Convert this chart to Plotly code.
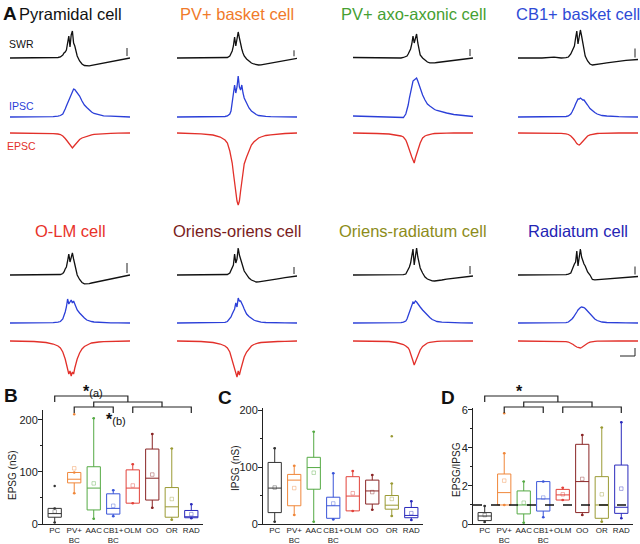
import plotly.graph_objects as go

W, H = 640, 544

# shared time base of the example traces (window 0-100, denser around the ripple)
T = [0, 10, 20, 30, 36, 40, 42, 44, 45, 46, 47, 48, 49, 50, 51, 52, 53, 54, 55, 56,
     58, 60, 62, 64, 66, 68, 70, 74, 78, 84, 90, 100]

# example traces, amplitude relative to baseline (up = positive)
PYR_SWR = [0, 0, 0, 0, 0.3, 0.5, 1, 3, 5, 6, 8, 14, 22, 11, 23, 27, 15, 12, 6, 2,
           -3, -6, -7.5, -8, -7.8, -7.3, -6.8, -5.8, -4.8, -3.5, -2.2, 0]
PYR_IPSC = [0, 0, 0, 0, 0.3, 0.8, 1.5, 3, 5, 8, 11, 14, 17, 21, 24, 26, 28, 27.5, 26, 25,
            21, 16, 12, 9.5, 7, 5, 3.5, 2, 1.2, 0.8, 0.5, 0]
PYR_EPSC = [0, 0, 0, -0.3, -0.6, -1, -1.5, -3, -4, -5.5, -7, -8.5, -10, -11.5, -13, -15, -13.5, -12, -10.5, -9,
            -6.5, -5, -4, -3, -2.3, -1.8, -1.3, -0.8, -0.5, -0.3, -0.2, 0]

PVBC_SWR = [0, 0, 0, 0, 0, 0.3, 0.5, 2, 4, 7, 12, 21, 12, 18, 26, 20, 13, 9, 5, 2,
            -1, -3.5, -5, -6, -6.8, -7, -6.8, -6, -5, -3.8, -2.5, -0.3]
PVBC_IPSC = [0, 0, 0, 0, 0.3, 0.5, 1, 3, 6, 14, 22, 32, 24, 30, 41, 30, 27, 32, 24, 19,
             14, 9, 6, 4, 2.5, 1.5, 1, 0.6, 0.4, 0.2, 0.1, 0]
PVBC_EPSC = [0, -0.3, -0.8, -2, -4, -7, -10, -18, -23, -30, -40, -50, -60, -68, -72, -68, -58, -47, -38, -31,
             -24, -17, -12, -9, -7, -5, -4, -2.5, -1.8, -1, -0.5, 0]

AAC_SWR = [0.5, 0.3, 0, 0, 0, 0, 0.5, 1, 2, 4, 6, 9, 14, 22, 15, 21, 24, 15, 8, 3,
           0, -2.5, -4, -4.8, -5, -4.8, -4.5, -3.8, -3, -2.2, -1.5, 0]
AAC_IPSC = [1, 0.5, 0, -0.5, -0.8, -1, -0.5, 3, 7, 12, 19, 25, 30, 36, 37, 38, 39, 36, 32, 28,
            22, 17, 13, 11, 9, 7.5, 6.5, 5, 4, 2.5, 1.5, 0.5]
AAC_EPSC = [0, 0, -0.5, -1, -2, -3, -4, -7, -10, -14, -17, -20, -24, -27, -30, -25, -21, -19, -14, -10,
            -5, -3, -2, -1.2, -0.8, -0.5, -0.3, -0.2, -0.1, 0, 0, 0]

CB1_SWR = [0, 0, 0, 0.8, 0, 0.3, 1, 4, 7, 10, 12, 20, 27, 14, 20, 28, 22, 14, 7, 2,
           -3, -6, -7, -6.8, -6.4, -6, -5.6, -4.8, -4, -3, -2.3, -1.5]
CB1_IPSC = [0, 0, 0, 0, 0, 0.5, 1, 3, 5, 7, 10, 13, 16, 18, 18, 19, 18, 17, 17, 15,
            12, 8.5, 6, 4.5, 3, 2, 1.5, 1, 0.5, 0.3, 0.2, 0]
CB1_EPSC = [0, 0, 0, 0, -0.3, -0.8, -1.5, -3, -4, -5.5, -7, -9, -10.5, -11.5, -12, -11, -9.5, -8, -6.5, -5,
            -3, -1.8, -1.2, -0.8, -0.5, -0.3, -0.2, 0, 0, 0, 0, 0]

OLM_SWR = [0, 0, 0, 0, 0, 0.3, 0.5, 1.5, 3, 6, 8, 14, 21, 13, 18, 22, 16, 10, 4, 0,
           -4.5, -7.5, -8.8, -9, -8.6, -8, -7.5, -6.5, -5.5, -4, -2.5, 0]
OLM_IPSC = [0, 0, 0, 0, 0.3, 0.8, 1.5, 4, 7, 11, 16, 24, 19, 22, 23, 20, 22, 19, 16, 13,
            10, 7, 5, 3, 2, 1.5, 1, 0.6, 0.4, 0.2, 0.1, 0]
OLM_EPSC = [0, 0, -0.5, -1.5, -3, -5, -7, -11, -14, -18, -23, -28, -33, -30, -35, -31, -33, -27, -22, -18,
            -12, -8, -5.5, -4, -3, -2, -1.5, -1, -0.7, -0.5, -0.3, 0]

OO_SWR = [0, 0, 0, 0, 0, 0.3, 0.5, 2, 5, 8, 10, 21, 12, 16, 27, 20, 15, 12, 8, 4,
          0, -3, -5, -6.3, -7, -6.8, -6.5, -5.8, -5, -3.8, -2.6, -1]
OO_IPSC = [0, 0, 0, 0, 0.3, 0.6, 1.5, 4, 6, 9, 11, 14, 20, 16, 25, 22, 22, 20, 17, 14,
           9, 6.5, 4.5, 3, 2, 1.2, 0.8, 0.5, 0.3, 0.2, 0.1, 0]
OO_EPSC = [0, 0, -0.5, -1.5, -3, -5, -7, -11, -15, -19, -24, -29, -32, -36, -30, -34, -29, -24, -20, -16,
           -11, -7.5, -5, -3.5, -2.5, -2, -1.5, -1, -0.7, -0.5, -0.3, 0]

OR_SWR = [0, 0, 0, 0, 0, 0, 0.3, 1, 3, 6, 8, 12, 18, 26, 10, 22, 27, 18, 12, 7,
          2, -2, -4, -5.2, -5.8, -6, -5.8, -5, -4.2, -3.2, -2, -1]
OR_IPSC = [0, 0, 0, 0, 0, 0.3, 0.8, 2, 4, 7, 10, 13, 17, 21, 20, 22, 21, 19, 17, 16,
           13, 10, 8, 5.5, 3.5, 2.5, 1.5, 0.8, 0.5, 0.3, 0.1, 0]
OR_EPSC = [0, 0, 0, -0.5, -1.5, -2.5, -3.5, -5, -6, -7, -9, -12, -16, -20, -24, -21, -17, -13, -10.5, -9,
           -5.5, -3.5, -2, -1.3, -0.8, -0.5, -0.3, -0.2, -0.1, 0, 0, 0]

RAD_SWR = [0, 0, 0, 0, 0, 0.3, 0.8, 2, 5, 9, 11, 13, 24, 9, 18, 26, 18, 14, 11, 9,
           3, 0, -4.5, -4.8, -4.6, -4.4, -4.2, -3.8, -3.3, -2.6, -2, -1.5]
RAD_IPSC = [0, 0, 0, 0, 0, 0.3, 1, 2.5, 4, 5.5, 7, 9, 11, 13, 14.5, 15.5, 16, 16, 15.5, 14.5,
            12, 9, 6, 4, 2.5, 1.5, 1, 0.5, 0.3, 0.2, 0.1, 0]
RAD_EPSC = [0, 0, 0, 0, -0.3, -0.6, -1, -2, -2.5, -3.5, -4.5, -5.5, -6, -6.5, -7, -7, -6.5, -5.5, -4.5, -3.5,
            -2.2, -1.2, -0.6, -0.3, -0.2, -0.1, 0, 0, 0, 0, 0, 0]

CELL_NAMES = ["Pyramidal cell", "PV+ basket cell", "PV+ axo-axonic cell", "CB1+ basket cell",
              "O-LM cell", "Oriens-oriens cell", "Oriens-radiatum cell", "Radiatum cell"]
SWR_BAR = [8, 6, 7, 9, 10, 7, 8, 8]      # SWR scale bar height per cell
EPSC_BAR_T, EPSC_BAR_A = 12.5, 8        # time / current scale bar

# group data (box statistics)
CATS = ["PC", "PV+<br>BC", "AAC", "CB1+<br>BC", "OLM", "OO", "OR", "RAD"]

EPSG_LO = [3, 59, 10, 15, 40, 31, 8, 11]
EPSG_Q1 = [13, 79, 27, 19, 40, 46, 13, 12]
EPSG_MED = [20, 86, 69, 30, 69, 88, 33, 13]
EPSG_Q3 = [30, 99, 110, 58, 104, 144, 70, 26]
EPSG_HI = [30, 99, 203, 65, 115, 173, 145, 38]
EPSG_MEAN = [24, 107, 78, 35, 74, 95, 48, 19]
EPSG_OUT_X = [0, 1]
EPSG_OUT_Y = [73, 211]

IPSG_LO = [4, 16, 4, 8, 23, 25, 14, 7]
IPSG_Q1 = [20, 32, 61, 10, 23, 35, 26, 11]
IPSG_MED = [63, 77, 99, 32, 49, 58, 33, 15]
IPSG_Q3 = [108, 87, 117, 47, 83, 77, 50, 29]
IPSG_HI = [133, 102, 162, 89, 93, 86, 71, 40]
IPSG_MEAN = [64, 63, 90, 36, 54, 56, 44, 19]
IPSG_OUT_X = [6]
IPSG_OUT_Y = [154]

RATIO_LO = [0.1, 1.0, 0.07, 0.35, 1.26, 0.47, 0.12, 0.3]
RATIO_Q1 = [0.18, 1.0, 0.53, 0.68, 1.26, 0.6, 0.3, 0.56]
RATIO_MED = [0.42, 1.65, 1.0, 1.32, 1.53, 2.23, 1.0, 0.88]
RATIO_Q3 = [0.6, 2.63, 1.74, 2.23, 1.82, 4.19, 2.49, 3.1]
RATIO_HI = [0.95, 3.72, 2.23, 2.23, 1.91, 4.68, 5.07, 5.35]
RATIO_MEAN = [0.47, 2.28, 1.12, 1.39, 1.56, 2.37, 1.56, 1.86]
RATIO_OUT_X = [1]
RATIO_OUT_Y = [5.82]
RATIO_REF = 1

# significance comparison: PC vs (PV+BC..CB1+BC) and (OLM..RAD)
GROUP_1 = [1, 3]
GROUP_2 = [4, 7]

# ---- styling / layout ----
FONT = "Liberation Sans, Arial, sans-serif"
TITLE_COLORS = ["#111111", "#f07a2a", "#45a032", "#2e4bd6", "#e8322a", "#7a1c1c", "#8c8c1a", "#2424b4"]
BOX_COLORS = ["#333333", "#f0873a", "#55aa44", "#3a55d8", "#e2423a", "#8a2525", "#9a9a34", "#2a2abc"]
SWR_C, IPSC_C, EPSC_C = "#111111", "#2b3fd8", "#e2302a"

COL_X = [(10, 130), (177, 297), (353, 473), (518, 638)]
ROW_BANDS = [
    {"swr": (25, 72, 58), "ipsc": (72, 124, 117), "epsc": (124, 212, 133), "title": 14},
    {"swr": (242, 290, 275), "ipsc": (290, 330, 323), "epsc": (330, 385, 341), "title": 231},
]


def xdom(a, b):
    return [a / W, b / W]


def ydom(top, bot):
    return [1 - bot / H, 1 - top / H]


fig = go.Figure()
layout = {}
counter = {"x": 0, "y": 0}


def new_axis(kind, **opts):
    counter[kind] += 1
    n = counter[kind]
    name = kind + "axis" + ("" if n == 1 else str(n))
    ref = kind + ("" if n == 1 else str(n))
    opts.setdefault("automargin", False)
    layout[name] = opts
    return ref


def note(text, px, py, size, color, angle=0):
    annotations.append(dict(text=text, x=px / W, y=1 - py / H, xref="paper", yref="paper",
                            showarrow=False, xanchor="center", yanchor="middle", textangle=angle,
                            font=dict(size=size, color=color, family=FONT)))


hidden = dict(visible=False, showgrid=False, zeroline=False, fixedrange=True)

cell_traces = [
    (PYR_SWR, PYR_IPSC, PYR_EPSC), (PVBC_SWR, PVBC_IPSC, PVBC_EPSC),
    (AAC_SWR, AAC_IPSC, AAC_EPSC), (CB1_SWR, CB1_IPSC, CB1_EPSC),
    (OLM_SWR, OLM_IPSC, OLM_EPSC), (OO_SWR, OO_IPSC, OO_EPSC),
    (OR_SWR, OR_IPSC, OR_EPSC), (RAD_SWR, RAD_IPSC, RAD_EPSC),
]

annotations = []

for i, (swr, ipsc, epsc) in enumerate(cell_traces):
    row, col = divmod(i, 4)
    band = ROW_BANDS[row]
    x0, x1 = COL_X[col]
    xa = new_axis("x", domain=xdom(x0, x1), range=[0, 100], **hidden)
    refs = {}
    for key in ("swr", "ipsc", "epsc"):
        top, bot, base = band[key]
        refs[key] = new_axis("y", domain=ydom(top, bot), range=[-(bot - base), base - top],
                             anchor=xa, **hidden)
    layout["xaxis" + xa[1:]]["anchor"] = refs["epsc"]
    for key, vals, c in (("swr", swr, SWR_C), ("ipsc", ipsc, IPSC_C), ("epsc", epsc, EPSC_C)):
        fig.add_trace(go.Scatter(x=T, y=vals, mode="lines", line=dict(color=c, width=1.3),
                                 xaxis=xa, yaxis=refs[key], hoverinfo="skip"))
    # SWR scale bar
    fig.add_trace(go.Scatter(x=[97.5, 97.5], y=[swr[-1] + 2, swr[-1] + 2 + SWR_BAR[i]], mode="lines",
                             line=dict(color="#222", width=1), xaxis=xa, yaxis=refs["swr"], hoverinfo="skip"))
    if i == len(cell_traces) - 1:
        fig.add_trace(go.Scatter(x=[97.5 - EPSC_BAR_T, 97.5, 97.5], y=[-15, -15, -15 + EPSC_BAR_A],
                                 mode="lines", line=dict(color="#222", width=1),
                                 xaxis=xa, yaxis=refs["epsc"], hoverinfo="skip"))
    note(CELL_NAMES[i], (x0 + x1) / 2, band["title"], 16.5, TITLE_COLORS[i])

for txt, py, c in (("SWR", 44, SWR_C), ("IPSC", 106, IPSC_C), ("EPSC", 146, EPSC_C)):
    note(txt, 21, py, 10.5, c)

for txt, px, py in (("A", 10, 13), ("B", 11, 395), ("C", 225, 397), ("D", 448, 397)):
    note("<b>%s</b>" % txt, px, py, 19, "#111")

XR = [-0.6, 7.6]


def box_panel(xpx, ytop, yrange, dtick, minor, title, title_pos, lo, q1, med, q3, hi, mean, out_x, out_y):
    xa = new_axis("x", domain=xdom(*xpx), range=XR, showline=True, linecolor="#222", linewidth=1,
                  ticks="", tickvals=list(range(8)), ticktext=CATS, showgrid=False, zeroline=False,
                  tickangle=0, ticklabelstandoff=-2,
                  tickfont=dict(size=8, color="#222", family=FONT))
    ya = new_axis("y", domain=ydom(ytop, 524), range=yrange, showline=True, linecolor="#222",
                  linewidth=1, ticks="outside", ticklen=4, tickcolor="#222", dtick=dtick,
                  minor=dict(ticks="outside", ticklen=2, dtick=minor, tickcolor="#222"),
                  showgrid=False, zeroline=False, anchor=xa, ticklabelstandoff=-2,
                  tickfont=dict(size=11, color="#222", family=FONT))
    layout["xaxis" + xa[1:]]["anchor"] = ya
    note(title, title_pos[0], title_pos[1], 10, "#222", angle=-90)
    for i in range(8):
        fig.add_trace(go.Box(x=[i], q1=[q1[i]], median=[med[i]], q3=[q3[i]], lowerfence=[lo[i]],
                             upperfence=[hi[i]], width=0.68, whiskerwidth=0.2, boxpoints=False,
                             line=dict(color=BOX_COLORS[i], width=1), fillcolor="rgba(0,0,0,0)",
                             xaxis=xa, yaxis=ya, hoverinfo="skip"))
    idx = list(range(8))
    fig.add_trace(go.Scatter(x=idx, y=mean, mode="markers", xaxis=xa, yaxis=ya, hoverinfo="skip",
                             marker=dict(symbol="square-open", size=3.5, color=BOX_COLORS,
                                         opacity=0.5, line=dict(width=0.8))))
    fig.add_trace(go.Scatter(x=idx + idx, y=lo + hi, mode="markers", xaxis=xa, yaxis=ya,
                             hoverinfo="skip", marker=dict(size=2.5, color=BOX_COLORS + BOX_COLORS)))
    fig.add_trace(go.Scatter(x=out_x, y=out_y, mode="markers", xaxis=xa, yaxis=ya, hoverinfo="skip",
                             cliponaxis=False,
                             marker=dict(size=2.5, color=[BOX_COLORS[k] for k in out_x])))
    return xa, ya


def brackets(xpx, star_text, star_x):
    xa = new_axis("x", domain=xdom(*xpx), range=XR, **hidden)
    ya = new_axis("y", domain=ydom(385, 420), range=[0, 35], anchor=xa, **hidden)
    layout["xaxis" + xa[1:]]["anchor"] = ya
    m1 = sum(GROUP_1) / 2
    m2 = sum(GROUP_2) / 2
    m12 = (m1 + m2) / 2
    xs = [0, 0, m12, m12, None, m1, m1, m2, m2, None,
          GROUP_1[0], GROUP_1[0], GROUP_1[1], GROUP_1[1], None,
          GROUP_2[0], GROUP_2[0], GROUP_2[1], GROUP_2[1]]
    ys = [18, 24, 24, 18, None, 13, 18, 18, 13, None, 7, 13, 13, 7, None, 7, 13, 13, 7]
    fig.add_trace(go.Scatter(x=xs, y=ys, mode="lines", line=dict(color="#222", width=1.2),
                             xaxis=xa, yaxis=ya, hoverinfo="skip"))
    annotations.append(dict(text=star_text, x=star_x, y=29, xref=xa, yref=ya, showarrow=False,
                            xanchor="center", yanchor="middle",
                            font=dict(size=11, color="#111", family=FONT)))
    return xa, ya


STAR = "<span style='font-size:16px'><b>*</b></span>"

box_panel((43, 203), 410, [0, 219], 100, 50, "EPSG (nS)", (12, 476),
          EPSG_LO, EPSG_Q1, EPSG_MED, EPSG_Q3, EPSG_HI, EPSG_MEAN, EPSG_OUT_X, EPSG_OUT_Y)
bxa, bya = brackets((43, 203), STAR + "(a)", 1.96)
annotations.append(dict(text=STAR + "(b)", x=3.15, y=1, xref=bxa, yref=bya, showarrow=False,
                        xanchor="center", yanchor="middle",
                        font=dict(size=11, color="#111", family=FONT)))

box_panel((263, 423), 408, [0, 203.5], 100, 50, "IPSG (nS)", (235, 468),
          IPSG_LO, IPSG_Q1, IPSG_MED, IPSG_Q3, IPSG_HI, IPSG_MEAN, IPSG_OUT_X, IPSG_OUT_Y)

dxa, dya = box_panel((473, 633), 408, [0, 6.1], 2, 1, "EPSG/IPSG", (456, 470),
                     RATIO_LO, RATIO_Q1, RATIO_MED, RATIO_Q3, RATIO_HI, RATIO_MEAN, RATIO_OUT_X, RATIO_OUT_Y)
brackets((473, 633), STAR, 1.8)

shapes = [dict(type="line", xref=dxa + " domain", yref=dya, x0=0, x1=1, y0=RATIO_REF, y1=RATIO_REF,
               line=dict(color="#111", width=1.6, dash="dash"))]

fig.update_layout(
    width=W, height=H, margin=dict(l=0, r=0, t=0, b=0, pad=0, autoexpand=False),
    paper_bgcolor="white", plot_bgcolor="rgba(0,0,0,0)", showlegend=False,
    boxmode="overlay", font=dict(family=FONT, color="#222"),
    annotations=annotations, shapes=shapes, **layout,
)

# the page body has a default 8px margin; drop it so the figure fills the window
fig.write_html("out.html", config={"displayModeBar": False},
               post_script="document.body.style.margin='0px';")
